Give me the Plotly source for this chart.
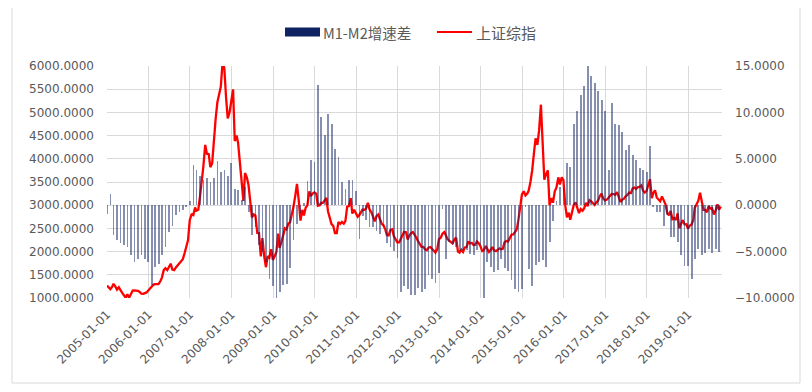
import pandas as pd
import plotly.graph_objects as go

# ---------------- data ----------------
# M1-M2 growth difference (%), monthly, Dec-2004 .. Sep-2019 (month-end)
diff_2004 = [-1.0]
diff_2005 = [1.2, -3.2, -3.8, -4.1, -4.3, -4.5, -5.4, -6.1, -5.8, -5.4, -5.8, -6.1]
diff_2006 = [-8.6, -6.7, -6.3, -5.4, -4.5, -2.9, -2.2, -1.1, -0.7, -0.5, -0.2, 0.5]
diff_2007 = [4.3, 3.8, 3.2, 2.7, 2.9, 2.5, 2.9, 4.8, 3.6, 3.8, 3.2, 4.5]
diff_2008 = [1.8, 1.6, 0.6, 2.0, -0.7, -3.2, -2.4, -4.3, -5.0, -6.1, -8.0, -8.7]
diff_2009 = [-12.1, -9.4, -8.6, -8.5, -6.8, -3.7, -2.0, -0.8, 0.2, 2.6, 4.9, 4.7]
diff_2010 = [13.0, 9.5, 7.6, 9.8, 8.8, 6.1, 5.2, 2.5, 1.8, 2.7, 2.7, 1.5]
diff_2011 = [-3.6, -1.2, -1.6, -2.4, -2.4, -2.8, -3.1, -2.3, -4.1, -4.5, -4.9, -5.7]
diff_2012 = [-9.3, -8.7, -9.0, -9.7, -9.7, -8.9, -9.3, -9.0, -7.5, -8.0, -8.4, -7.3]
diff_2013 = [-0.4, -5.8, -4.0, -4.2, -4.5, -4.9, -4.8, -4.8, -5.3, -5.4, -4.8, -4.3]
diff_2014 = [-11.5, -6.1, -6.7, -7.2, -7.0, -5.8, -6.8, -7.1, -8.1, -9.0, -9.4, -9.0]
diff_2015 = [-0.2, -6.9, -8.7, -6.4, -6.1, -5.9, -6.7, -4.0, -1.7, 0.5, 2.0, 1.9]
diff_2016 = [4.6, 4.1, 8.7, 10.1, 11.9, 12.8, 15.2, 13.9, 13.2, 12.3, 11.3, 10.1]
diff_2017 = [3.8, 11.0, 8.7, 8.6, 7.9, 5.9, 6.5, 5.4, 4.9, 4.0, 3.8, 3.6]
diff_2018 = [6.4, -0.2, -0.7, -0.7, -2.2, -1.1, -3.4, -3.4, -4.0, -5.4, -6.5, -6.5]
diff_2019 = [-7.9, -5.8, -4.7, -5.4, -5.1, -4.7, -5.1, -4.7, -5.0]

# Shanghai Composite, two readings per month (mid-month, month-end), Jan-2005 .. Sep-2019
sse_start = 1266
sse_2005 = [1230, 1191, 1240, 1306, 1250, 1181, 1230, 1159, 1110, 1060, 1000, 1080,
            1010, 1083, 1160, 1162, 1160, 1155, 1130, 1092, 1090, 1099, 1120, 1161]
sse_2006 = [1200, 1258, 1290, 1299, 1290, 1298, 1360, 1440, 1600, 1641, 1600, 1672,
            1740, 1612, 1600, 1658, 1700, 1752, 1800, 1837, 1970, 2099, 2250, 2675]
sse_2007 = [2800, 2786, 2950, 2881, 2900, 3183, 3500, 3841, 4300, 4109, 4100, 3820,
            3900, 4471, 4870, 5218, 5400, 5552, 6092, 5955, 5300, 4871, 5000, 5261]
sse_2008 = [5497, 4383, 4500, 4348, 3900, 3473, 3094, 3693, 3600, 3433, 3000, 2736,
            2800, 2775, 2400, 2397, 1895, 2293, 1900, 1664, 1900, 1871, 2050, 1821]
sse_2009 = [1900, 1991, 2390, 2082, 2200, 2373, 2500, 2477, 2600, 2632, 2800, 2959,
            3200, 3460, 3100, 2667, 2900, 2779, 2950, 2996, 3300, 3195, 3250, 3277]
sse_2010 = [3250, 2989, 3000, 3051, 3050, 3109, 3160, 2870, 2700, 2592, 2550, 2398,
            2400, 2638, 2600, 2638, 2600, 2655, 2970, 2979, 3150, 2820, 2900, 2808]
sse_2011 = [2750, 2790, 2850, 2905, 2900, 2928, 3050, 2911, 2850, 2743, 2650, 2762,
            2800, 2701, 2600, 2567, 2480, 2359, 2350, 2468, 2480, 2333, 2250, 2199]
sse_2012 = [2200, 2292, 2350, 2428, 2420, 2262, 2350, 2396, 2420, 2373, 2300, 2225,
            2150, 2103, 2100, 2047, 2030, 2086, 2100, 2069, 2020, 1980, 2050, 2269]
sse_2013 = [2300, 2385, 2420, 2365, 2270, 2237, 2200, 2178, 2260, 2301, 2000, 1979,
            2040, 1994, 2090, 2098, 2220, 2175, 2190, 2141, 2150, 2220, 2180, 2116]
sse_2014 = [2010, 2033, 2120, 2056, 1990, 2033, 2100, 2026, 2010, 2039, 2070, 2048,
            2060, 2202, 2230, 2217, 2300, 2364, 2370, 2420, 2480, 2683, 2950, 3235]
sse_2015 = [3300, 3210, 3250, 3310, 3500, 3748, 4130, 4441, 4300, 4612, 5166, 4277,
            3550, 3664, 3750, 3000, 3150, 3053, 3300, 3383, 3600, 3445, 3600, 3539]
sse_2016 = [3000, 2738, 2840, 2688, 2870, 3004, 3060, 2938, 2830, 2917, 2880, 2930,
            3050, 2979, 3110, 3085, 3030, 3005, 3060, 3100, 3200, 3250, 3140, 3104]
sse_2017 = [3120, 3159, 3220, 3242, 3240, 3223, 3280, 3155, 3070, 3117, 3140, 3192,
            3220, 3273, 3260, 3361, 3380, 3349, 3390, 3393, 3430, 3317, 3270, 3307]
sse_2018 = [3450, 3560, 3150, 3259, 3320, 3169, 3120, 3082, 3190, 3095, 3020, 2847,
            2780, 2876, 2700, 2725, 2680, 2821, 2500, 2603, 2680, 2588, 2590, 2494]
sse_2019 = [2560, 2585, 2680, 2941, 3020, 3091, 3270, 3078, 2900, 2899, 2850, 2979,
            2930, 2933, 2800, 2886, 3020, 2905]
sse_end = 2970

year_ticks = [f"{y}-01-01" for y in range(2005, 2020)]
left_ticks = list(range(1000, 6001, 500))
right_ticks = list(range(-10, 16, 5))

# ---------------- assemble ----------------
bar_vals = (diff_2004 + diff_2005 + diff_2006 + diff_2007 + diff_2008 + diff_2009 +
            diff_2010 + diff_2011 + diff_2012 + diff_2013 + diff_2014 + diff_2015 +
            diff_2016 + diff_2017 + diff_2018 + diff_2019)
bar_dates = pd.date_range("2005-01-01", periods=len(bar_vals), freq="MS") - pd.Timedelta(days=1)

sse_vals = (sse_2005 + sse_2006 + sse_2007 + sse_2008 + sse_2009 + sse_2010 + sse_2011 +
            sse_2012 + sse_2013 + sse_2014 + sse_2015 + sse_2016 + sse_2017 + sse_2018 +
            sse_2019)
months = pd.date_range("2005-01-01", periods=len(sse_vals) // 2, freq="MS")
sse_dates = [pd.Timestamp("2005-01-01")]
for ms in months:
    sse_dates.append(ms + pd.Timedelta(days=14))
    sse_dates.append(ms + pd.DateOffset(months=1) - pd.Timedelta(days=2))
sse_dates.append(pd.Timestamp("2019-10-15"))
sse_all = [sse_start] + sse_vals + [sse_end]

# ---------------- figure ----------------
# page body has an 8px margin, so the figure is 8px smaller and all
# page-pixel positions below are shifted by OFF
OFF = 8
W, H = 812 - OFF, 392 - OFF
L, R, T, B = 107 - OFF, 90, 66 - OFF, 94
PW, PH = W - L - R, H - T - B

def px_x(px):
    return (px - OFF - L) / PW

def px_y(py):
    return (H - B - (py - OFF)) / PH

GRAY = "#595959"
GRID = "#D9D9D9"
NAVY = "#0F2262"
RED = "#FF0000"
FONT = "DejaVu Sans"
CJK = "Noto Sans CJK SC"

fig = go.Figure()
fig.add_trace(go.Bar(
    x=bar_dates, y=bar_vals, yaxis="y2", name="M1-M2增速差",
    marker=dict(color=NAVY, line=dict(width=0)), opacity=0.5,
    width=7 * 24 * 3600 * 1000, showlegend=False,
))
fig.add_trace(go.Scatter(
    x=sse_dates, y=sse_all, yaxis="y", name="上证综指", mode="lines",
    line=dict(color=RED, width=2.3), showlegend=False,
))

fig.update_layout(
    width=W, height=H,
    margin=dict(l=L, r=R, t=T, b=B),
    paper_bgcolor="white", plot_bgcolor="white",
    font=dict(family=FONT, size=12, color=GRAY),
    bargap=0,
    xaxis=dict(
        type="date", range=["2005-01-01", "2019-10-25"],
        tickvals=year_ticks, ticktext=year_ticks, tickangle=-45,
        showgrid=True, gridcolor=GRID, gridwidth=1,
        showline=False, zeroline=False, ticks="",
        tickfont=dict(family=FONT, size=12, color=GRAY),
        ticklabelstandoff=6,
    ),
    yaxis=dict(
        range=[1000, 6000], tickvals=left_ticks, tickformat=".4f",
        showgrid=True, gridcolor=GRID, gridwidth=1,
        zeroline=False, showline=False, ticks="",
        tickfont=dict(family=FONT, size=12, color=GRAY),
        ticklabelstandoff=12,
    ),
    yaxis2=dict(
        range=[-10, 15], tickvals=right_ticks, tickformat=".4f",
        overlaying="y", side="right", showgrid=False,
        zeroline=False, showline=False, ticks="",
        tickfont=dict(family=FONT, size=12, color=GRAY),
        ticklabelstandoff=12,
    ),
    shapes=[
        # chart border (left, bottom, right)
        dict(type="path", xref="paper", yref="paper",
             path=(f"M {px_x(12)},{px_y(8)} L {px_x(12)},{px_y(383)} "
                   f"L {px_x(800)},{px_y(383)} L {px_x(800)},{px_y(8)}"),
             line=dict(color=GRID, width=1), layer="below"),
        # legend swatches
        dict(type="rect", xref="paper", yref="paper",
             x0=px_x(285), x1=px_x(320), y0=px_y(36.5), y1=px_y(27.5),
             line=dict(width=0), fillcolor=NAVY),
        dict(type="line", xref="paper", yref="paper",
             x0=px_x(437), x1=px_x(472), y0=px_y(32), y1=px_y(32),
             line=dict(color=RED, width=2)),
    ],
    annotations=[
        dict(text="M1-M2增速差", xref="paper", yref="paper",
             x=px_x(321), y=px_y(32), xanchor="left", yanchor="middle",
             showarrow=False, font=dict(family=CJK, size=14.5, color=GRAY)),
        dict(text="上证综指", xref="paper", yref="paper",
             x=px_x(474), y=px_y(32), xanchor="left", yanchor="middle",
             showarrow=False, font=dict(family=CJK, size=15, color=GRAY)),
    ],
)

fig.write_html("out.html")
